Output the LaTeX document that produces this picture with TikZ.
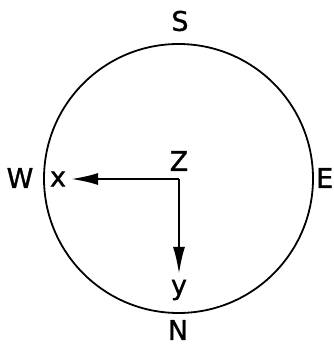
\documentclass[tikz,border=0pt]{standalone}
\usepackage{fontspec}
\setmainfont{DejaVu Sans}
\newfontfamily\lblfont[FakeBold=1.2]{DejaVu Sans}
\usetikzlibrary{arrows.meta}
\begin{document}
\begin{tikzpicture}[x=1pt,y=1pt,
  lbl/.style={font=\lblfont\fontsize{27}{27}\selectfont, inner sep=0pt},
  ax/.style={line width=2.2pt, -{Latex[length=27pt,width=12pt]}}]
\useasboundingbox (0,0) rectangle (333,345);
\node[circle, draw, line width=1.8pt, minimum size=269pt, inner sep=0pt] (c) at (178.5,166.5) {};
\coordinate (o) at (179,166);
\coordinate (xt) at (71,166);
\coordinate (yt) at (179,71);
\draw[ax] (o) -- (xt);
\draw[ax] (o) -- (yt);
\node[lbl] (S) at (180,324) {S};
\node[lbl] (Z) at (179,184) {Z};
\node[lbl] (W) at (20,167) {W};
\node[lbl] (x) at (58,166) {x};
\node[lbl, anchor=west] (E) at (316,167) {E};
\node[lbl] (y) at (179,55) {y};
\node[lbl] (N) at (178,15) {N};
\end{tikzpicture}
\end{document}
